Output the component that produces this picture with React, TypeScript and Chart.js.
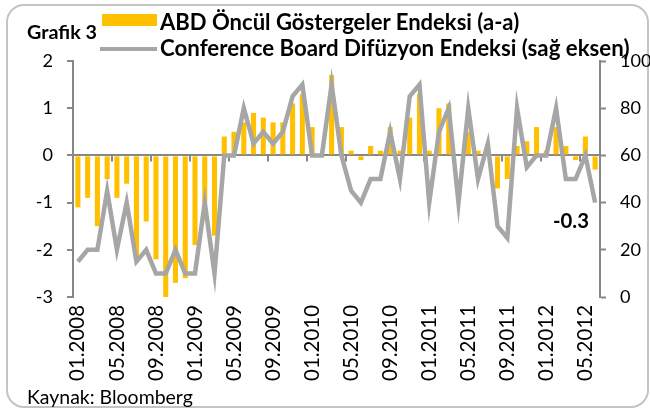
import React, { useEffect, useRef } from "react";
import { Chart, registerables } from "chart.js";

Chart.register(...registerables);

const months = [
  "01.2008", "02.2008", "03.2008", "04.2008", "05.2008", "06.2008", "07.2008", "08.2008", "09.2008", "10.2008", "11.2008", "12.2008",
  "01.2009", "02.2009", "03.2009", "04.2009", "05.2009", "06.2009", "07.2009", "08.2009", "09.2009", "10.2009", "11.2009", "12.2009",
  "01.2010", "02.2010", "03.2010", "04.2010", "05.2010", "06.2010", "07.2010", "08.2010", "09.2010", "10.2010", "11.2010", "12.2010",
  "01.2011", "02.2011", "03.2011", "04.2011", "05.2011", "06.2011", "07.2011", "08.2011", "09.2011", "10.2011", "11.2011", "12.2011",
  "01.2012", "02.2012", "03.2012", "04.2012", "05.2012", "06.2012",
];

// ABD Öncül Göstergeler Endeksi (a-a), sol eksen
const leiMoM = [
  -1.1, -0.9, -1.5, -0.5, -0.9, -0.6, -2.2, -1.4, -2.2, -3.0, -2.7, -2.6,
  -1.9, -1.0, -1.7, 0.4, 0.5, 0.7, 0.9, 0.8, 0.7, 0.7, 1.1, 1.3,
  0.6, 0.0, 1.7, 0.6, 0.1, -0.1, 0.2, 0.1, 0.6, 0.1, 0.8, 1.3,
  0.1, 1.0, 1.1, 0.0, 0.5, 0.1, 0.2, -0.7, -0.5, 0.2, 0.3, 0.6,
  0.1, 0.6, 0.2, -0.1, 0.4, -0.3,
];

// Conference Board Difüzyon Endeksi, sağ eksen
const diffusion = [
  15, 20, 20, 45, 20, 40, 15, 20, 10, 10, 20, 10,
  10, 40, 10, 60, 60, 80, 65, 70, 65, 70, 85, 90,
  60, 60, 90, 60, 45, 40, 50, 50, 70, 50, 85, 90,
  40, 70, 80, 40, 80, 50, 65, 30, 25, 80, 55, 60,
  60, 80, 50, 50, 60, 40,
];

const leftTicks = { min: -3, max: 2, step: 1 };
const rightTicks = { min: 0, max: 100, step: 20 };
const labelEvery = 4;

const titleText = "Grafik 3";
const legendBar = "ABD Öncül Göstergeler Endeksi (a-a)";
const legendLine = "Conference Board Difüzyon Endeksi (sağ eksen)";
const lastValueLabel = "-0.3";
const sourceText = "Kaynak: Bloomberg";

const FAMILY = "Lato, 'Open Sans', sans-serif";
const AXIS = "#878787";
const ORANGE = "#FFC000";
const GREY = "#A6A6A6";

function fitSize(text: string, weight: string, target: number): number {
  const c = document.createElement("canvas").getContext("2d")!;
  c.font = `${weight} 100px ${FAMILY}`;
  const w = c.measureText(text).width;
  return (100 * target) / w;
}

const zeroTicksPlugin = {
  id: "zeroTicks",
  beforeDatasetsDraw(chart: any) {
    const x = chart.scales.x;
    const y = chart.scales.y;
    const ctx = chart.ctx;
    const y0 = y.getPixelForValue(0);
    const cw = x.getPixelForValue(1) - x.getPixelForValue(0);
    ctx.save();
    ctx.strokeStyle = AXIS;
    ctx.lineWidth = 2;
    for (let i = labelEvery; i < months.length; i += labelEvery) {
      const px = Math.round(x.getPixelForValue(i) - cw / 2);
      ctx.beginPath();
      ctx.moveTo(px, y0);
      ctx.lineTo(px, y0 + 6);
      ctx.stroke();
    }
    ctx.restore();
  },
};

export default function App() {
  const ref = useRef<HTMLCanvasElement>(null);
  const sizes = React.useMemo(
    () => ({
      title: fitSize(titleText, "bold", 70),
      leg1: fitSize(legendBar, "bold", 360),
      leg2: fitSize(legendLine, "bold", 470),
      last: fitSize(lastValueLabel, "bold", 36),
      source: fitSize(sourceText, "normal", 166),
      xTick: fitSize("01.2008", "normal", 76),
      yTick: fitSize("80", "normal", 21),
    }),
    []
  );

  useEffect(() => {
    if (!ref.current) return;
    const chart = new Chart(ref.current, {
      type: "bar",
      data: {
        labels: months,
        datasets: [
          {
            type: "line",
            label: legendLine,
            data: diffusion,
            yAxisID: "y1",
            borderColor: GREY,
            borderWidth: 4.5,
            pointRadius: 0,
            tension: 0,
            order: 0,
          } as any,
          {
            type: "bar",
            label: legendBar,
            data: leiMoM,
            yAxisID: "y",
            backgroundColor: ORANGE,
            barPercentage: 0.52,
            categoryPercentage: 1,
            order: 1,
          },
        ],
      },
      options: {
        responsive: false,
        animation: false,
        devicePixelRatio: 1,
        layout: { padding: { top: 61, left: 0, right: 0, bottom: 0 } },
        plugins: { legend: { display: false }, tooltip: { enabled: false } },
        scales: {
          x: {
            position: "bottom",
            grid: { display: false, drawTicks: false },
            border: { display: false },
            afterFit: (s: any) => {
              s.height = 112;
            },
            ticks: {
              autoSkip: false,
              maxRotation: 90,
              minRotation: 90,
              padding: 8,
              color: "#000",
              font: { family: FAMILY, size: sizes.xTick },
              callback: (_v: any, i: number) => (i % labelEvery === 0 ? months[i] : ""),
            },
          },
          y: {
            position: "left",
            min: leftTicks.min,
            max: leftTicks.max,
            afterFit: (s: any) => {
              s.width = 73;
            },
            grid: {
              color: (c: any) => (c.tick && c.tick.value === 0 ? AXIS : "rgba(0,0,0,0)"),
              lineWidth: 2,
              tickColor: AXIS,
              tickWidth: 2,
              tickLength: 6,
            },
            border: { display: true, color: AXIS, width: 2 },
            ticks: {
              stepSize: leftTicks.step,
              padding: 14,
              color: "#000",
              font: { family: FAMILY, size: sizes.yTick },
            },
          },
          y1: {
            position: "right",
            min: rightTicks.min,
            max: rightTicks.max,
            afterFit: (s: any) => {
              s.width = 50;
            },
            grid: {
              drawOnChartArea: false,
              tickColor: AXIS,
              tickWidth: 2,
              tickLength: 6,
            },
            border: { display: true, color: AXIS, width: 2 },
            ticks: {
              stepSize: rightTicks.step,
              padding: 14,
              color: "#000",
              font: { family: FAMILY, size: sizes.yTick },
            },
          },
        },
      },
      plugins: [zeroTicksPlugin],
    });
    return () => chart.destroy();
  }, [sizes]);

  const txt = (size: number, weight: string): React.CSSProperties => ({
    position: "absolute",
    fontFamily: FAMILY,
    fontSize: size,
    fontWeight: weight as any,
    lineHeight: 1,
    whiteSpace: "nowrap",
    color: "#000",
    transform: "translateY(-50%)",
  });

  return (
    <div style={{ position: "fixed", left: 0, top: 0, width: 650, height: 409, background: "#fff", overflow: "hidden" }}>
      <div
        style={{
          position: "absolute",
          left: 6,
          top: 4,
          width: 643,
          height: 404,
          boxSizing: "border-box",
          border: "2px solid #C4C4C4",
          borderRadius: 18,
        }}
      />
      <canvas ref={ref} width={650} height={409} style={{ position: "absolute", left: 0, top: 0 }} />
      <div style={{ ...txt(sizes.title, "bold"), left: 27, top: 32 }}>{titleText}</div>
      <div style={{ position: "absolute", left: 102, top: 14, width: 55, height: 12, background: ORANGE }} />
      <div style={{ ...txt(sizes.leg1, "bold"), left: 160, top: 22 }}>{legendBar}</div>
      <div style={{ position: "absolute", left: 100, top: 47, width: 57, height: 4, background: GREY }} />
      <div style={{ ...txt(sizes.leg2, "bold"), left: 160, top: 48 }}>{legendLine}</div>
      <div style={{ ...txt(sizes.last, "bold"), left: 553, top: 220 }}>{lastValueLabel}</div>
      <div style={{ ...txt(sizes.source, "normal"), left: 27, top: 397 }}>{sourceText}</div>
    </div>
  );
}
